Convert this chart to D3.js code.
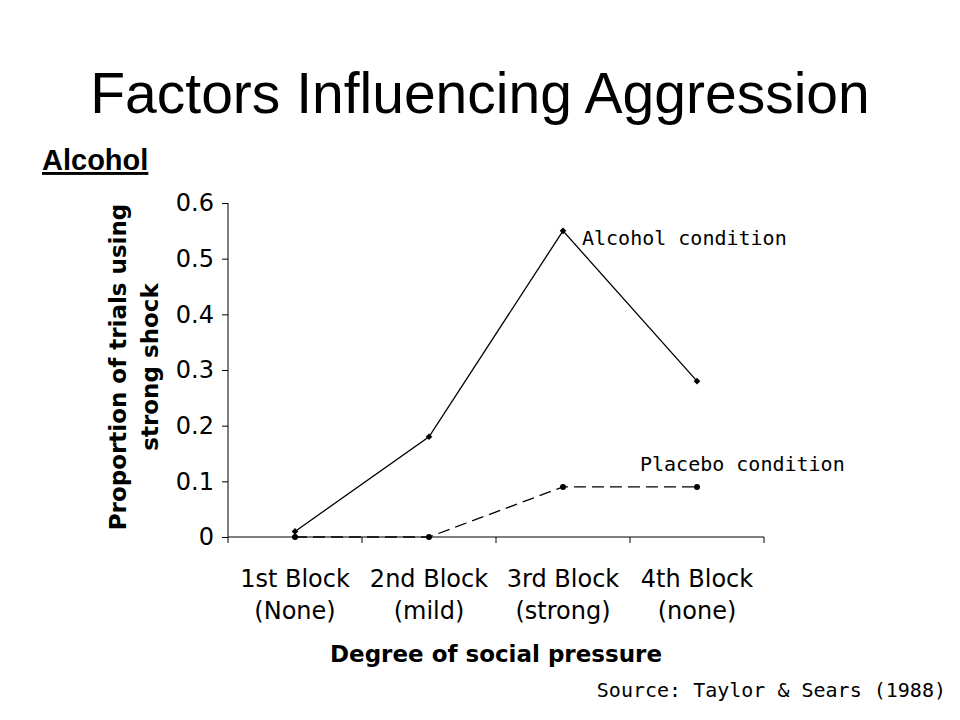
<!DOCTYPE html><html><head><meta charset="utf-8">
<script src="https://cdn.jsdelivr.net/npm/d3@7"></script>
<style>body{margin:0;background:#fff}</style></head><body>
<svg id="c" width="960" height="720"></svg>
<script>
const categories=["1st Block|(None)","2nd Block|(mild)","3rd Block|(strong)","4th Block|(none)"];
const alcohol=[0.01,0.18,0.55,0.28];
const placebo=[0,0,0.09,0.09];
const yTicks=[0,0.1,0.2,0.3,0.4,0.5,0.6];
const svg=d3.select("#c");
const L=228,R=764,T=203,B=537;
const x=d3.scaleBand().domain(categories).range([L,R]);
const y=d3.scaleLinear().domain([0,0.6]).range([B,T]);
const dv="DejaVu Sans, Verdana";
svg.append("text").attr("x",480).attr("y",113).attr("text-anchor","middle").attr("font-family","Liberation Sans, Arial").attr("font-size",57).text("Factors Influencing Aggression");
svg.append("text").attr("x",42).attr("y",170).attr("font-family","Liberation Sans, Arial").attr("font-weight","bold").attr("font-size",29).attr("text-decoration","underline").text("Alcohol");
const ya=svg.append("g").attr("transform",`translate(${L},0)`).call(d3.axisLeft(y).tickValues(yTicks).tickFormat(d=>d===0?"0":d3.format(".1f")(d)).tickSize(6).tickSizeOuter(0));
ya.selectAll("text").attr("font-family",dv).attr("font-size",24).attr("fill","#000").attr("x",-14);
ya.select(".domain").attr("d",`M0,${T}V${B}`);
const xa=svg.append("g").attr("transform",`translate(0,${B})`);
xa.append("line").attr("x1",L).attr("x2",R).attr("stroke","#000");
[L,...categories.map(c=>x(c)+x.bandwidth())].forEach(p=>xa.append("line").attr("x1",p).attr("x2",p).attr("y1",0).attr("y2",6).attr("stroke","#000"));
categories.forEach(c=>{const [a,b]=c.split("|");
 const t=xa.append("text").attr("text-anchor","middle").attr("font-family",dv).attr("font-size",24);
 t.append("tspan").attr("x",x(c)+x.bandwidth()/2).attr("y",50).text(a);
 t.append("tspan").attr("x",x(c)+x.bandwidth()/2).attr("y",82).text(b);});
svg.append("text").attr("x",496).attr("y",662).attr("text-anchor","middle").attr("font-family",dv).attr("font-weight","bold").attr("font-size",23).text("Degree of social pressure");
const yt=svg.append("text").attr("transform","translate(0,367) rotate(-90)").attr("text-anchor","middle").attr("font-family",dv).attr("font-weight","bold").attr("font-size",23);
yt.append("tspan").attr("x",0).attr("y",126).text("Proportion of trials using");
yt.append("tspan").attr("x",0).attr("y",158).text("strong shock");
const cx=c=>x(c)+x.bandwidth()/2;
const line=d3.line().x((d,i)=>cx(categories[i])).y(d=>y(d));
svg.append("path").attr("d",line(alcohol)).attr("fill","none").attr("stroke","#000").attr("stroke-width",1.3);
svg.append("path").attr("d",line(placebo)).attr("fill","none").attr("stroke","#000").attr("stroke-width",1.3).attr("stroke-dasharray","12,6");
svg.selectAll(".a").data(alcohol).enter().append("path").attr("d",d3.symbol(d3.symbolSquare,22)).attr("transform",(d,i)=>`translate(${cx(categories[i])},${y(d)}) rotate(45)`);
svg.selectAll(".p").data(placebo).enter().append("circle").attr("r",3).attr("cx",(d,i)=>cx(categories[i])).attr("cy",d=>y(d));
const mono="DejaVu Sans Mono, monospace";
svg.append("text").attr("x",582).attr("y",245).attr("font-family",mono).attr("font-size",20).text("Alcohol condition");
svg.append("text").attr("x",640).attr("y",471).attr("font-family",mono).attr("font-size",20).text("Placebo condition");
svg.append("text").attr("x",946).attr("y",697).attr("text-anchor","end").attr("font-family",mono).attr("font-size",20).text("Source: Taylor & Sears (1988)");
</script></body></html>
